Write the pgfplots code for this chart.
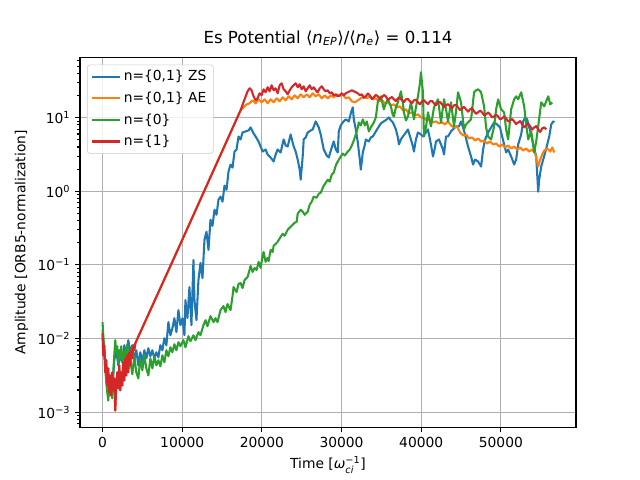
\documentclass[border=0pt]{standalone}
\usepackage{fontspec}
\setmainfont{DejaVu Sans}
\usepackage{pgfplots}
\pgfplotsset{compat=1.18}
\definecolor{tabblue}{HTML}{1F77B4}
\definecolor{taborange}{HTML}{FF7F0E}
\definecolor{tabgreen}{HTML}{2CA02C}
\definecolor{tabred}{HTML}{D62728}
\definecolor{gridgray}{HTML}{B0B0B0}
\begin{document}
\begin{tikzpicture}
\begin{axis}[
  at={(0,0)}, anchor=south west,
  scale only axis, width=4.96in, height=3.696in,
  ymode=log,
  xmin=-2830, xmax=59430, ymin=6.25e-4, ymax=65.5,
  scaled x ticks=false,
  xtick={0,10000,20000,30000,40000,50000},
  xticklabels={0,10000,20000,30000,40000,50000},
  ytick={1e-3,1e-2,1e-1,1,10},
  yticklabels={10\textsuperscript{−3},10\textsuperscript{−2},10\textsuperscript{−1},10\textsuperscript{0},10\textsuperscript{1}},
  minor ytick={7e-4,8e-4,9e-4,2e-3,3e-3,4e-3,5e-3,6e-3,7e-3,8e-3,9e-3,2e-2,3e-2,4e-2,5e-2,6e-2,7e-2,8e-2,9e-2,2e-1,3e-1,4e-1,5e-1,6e-1,7e-1,8e-1,9e-1,2,3,4,5,6,7,8,9,20,30,40,50,60},
  tick align=outside, tick pos=left,
  major tick length=3.5pt, minor tick length=2pt,
  every tick/.style={black, line width=0.8pt},
  axis line style={line width=0.8pt},
  grid=major,
  major grid style={gridgray, line width=0.8pt},
  tick label style={font=\fontsize{10}{12}\selectfont},
  title={Es Potential ⟨\textit{n}\textsubscript{\textit{EP}}⟩/⟨\textit{n}\textsubscript{\textit{e}}⟩ = 0.114},
  title style={font=\fontsize{12}{14}\selectfont, yshift=-1pt},
  xlabel={Time [\(\mbox{\textit{ω}}_{\mbox{\fontsize{7}{8}\selectfont\textit{ci}}}^{\mbox{\fontsize{7}{8}\selectfont −1}}\)]},
  ylabel={Amplitude [ORB5-normalization]},
  label style={font=\fontsize{10}{12}\selectfont},
  legend cell align=left,
  legend style={at={(0.014,0.981)}, anchor=north west, draw=black!20, rounded corners=2pt,
    fill=white, fill opacity=0.8, text opacity=1, font=\fontsize{10}{12}\selectfont,
    inner xsep=3pt, inner ysep=2pt, row sep=2.5pt},
  legend image code/.code={\draw[#1, line width=1.5pt] (0cm,0cm) -- (0.7cm,0cm);},
  every axis plot/.append style={line width=1.5pt, line join=round},
]
% n={0,1} ZS
\addplot[tabblue] coordinates {
(0,0.0130) (214,0.00694) (466,0.00348) (717,0.00231) (969,0.00288) (1220,0.00198) (1472,0.00507) (1724,0.00694) (1975,0.00433) (2227,0.00593) (2479,0.00476) (2730,0.00811) (2982,0.00593) (3233,0.00950) (3485,0.00651) (3737,0.00811) (3988,0.00507) (4240,0.00694) (4491,0.00433) (4743,0.00651) (4995,0.00476) (5246,0.00694) (5498,0.00540) (5749,0.00739) (6001,0.00575) (6253,0.00694) (6504,0.00540) (6756,0.00651) (7007,0.00557) (7259,0.00811) (7511,0.00694) (7762,0.0101) (8014,0.00811) (8265,0.0167) (8517,0.0111) (8769,0.0138) (9020,0.0189) (9272,0.0122) (9523,0.0243) (9775,0.0152) (10027,0.0189) (10278,0.0111) (10404,0.0333) (10655,0.0189) (10907,0.0501) (11159,0.0152) (11410,0.117) (11536,0.0333) (11788,0.0178) (12039,0.0624) (12291,0.1065) (12543,0.0665) (12794,0.219) (13046,0.282) (13297,0.160) (13549,0.411) (13801,0.340) (14052,0.562) (14304,0.480) (14555,0.770) (14807,0.845) (15059,0.723) (15310,1.194) (15562,1.05) (15813,1.853) (16065,2.31) (16317,2.10) (16568,3.47) (16820,3.70) (17072,5.56) (17323,5.06) (17575,6.30) (17952,6.51) (18329,6.71) (18581,7.37) (18958,6.11) (19210,5.56) (19588,4.75) (19839,4.06) (20091,3.47) (20468,3.70) (20720,3.16) (21097,2.88) (21475,2.54) (21726,3.16) (21978,3.70) (22355,3.37) (22733,5.06) (22984,4.19) (23236,4.06) (23613,5.92) (23991,4.06) (24243,3.47) (24494,2.70) (24746,1.97) (24871,1.44) (25123,2.97) (25249,5.06) (25500,5.39) (25752,6.30) (26129,6.71) (26381,6.93) (26758,8.90) (27136,7.37) (27387,5.92) (27765,3.70) (28142,3.06) (28394,2.88) (28771,3.94) (29023,4.75) (29274,3.70) (29526,3.37) (29652,6.51) (29903,7.85) (30155,8.63) (30532,9.48) (30910,8.90) (31161,11.45) (31413,13.82) (31539,9.48) (31790,6.93) (32042,4.61) (32294,2.70) (32419,1.97) (32671,3.37) (32923,4.33) (33048,5.06) (33426,4.75) (33677,5.39) (33929,5.56) (34306,6.51) (34684,7.61) (34935,8.36) (35312,8.90) (35690,9.48) (35942,10.09) (36193,9.19) (36445,8.63) (36822,6.93) (37074,5.39) (37200,4.33) (37451,5.06) (37703,5.56) (38080,6.30) (38332,6.93) (38709,5.06) (38961,4.06) (39087,3.47) (39338,5.06) (39590,6.30) (39967,5.92) (40219,5.56) (40596,6.30) (40848,6.93) (41225,4.33) (41477,2.97) (41729,3.94) (41855,4.75) (42232,5.06) (42484,4.33) (42735,3.70) (42861,3.16) (43113,5.56) (43364,5.56) (43742,6.51) (43993,6.93) (44371,7.61) (44748,7.61) (44999,8.90) (45251,7.37) (45503,5.92) (45880,4.06) (46257,2.97) (46509,2.31) (46761,2.70) (47138,2.54) (47515,2.17) (47767,3.70) (48019,5.06) (48396,6.30) (48773,7.37) (49151,8.63) (49528,8.10) (49905,7.37) (50031,6.30) (50409,4.33) (50660,3.37) (50912,3.70) (51289,2.97) (51667,2.31) (51918,2.70) (52170,4.33) (52547,5.92) (52799,8.90) (53050,10.09) (53302,9.48) (53554,7.37) (53805,5.92) (54057,4.33) (54434,2.97) (54560,1.69) (54686,0.989) (54812,1.44) (55063,2.17) (55315,2.70) (55567,3.37) (55818,4.33) (56070,5.56) (56321,8.10) (56573,8.90) (56699,8.63)
};
\addlegendentry{n=\{0,1\} ZS}
% n={0,1} AE
\addplot[taborange] coordinates {
(0,0.0118) (88,0.00593) (214,0.00811) (340,0.00348) (466,0.00507) (592,0.00231) (717,0.00394) (843,0.00186) (969,0.00316) (1095,0.00169) (1220,0.00348) (1346,0.00198) (1472,0.00288) (1598,0.00105) (1724,0.00231) (1850,0.00348) (1975,0.00210) (2101,0.00433) (2227,0.00198) (2353,0.00348) (2479,0.00231) (2604,0.00476) (2730,0.00270) (2856,0.00540) (2982,0.00316) (3108,0.00593) (3233,0.00348) (3359,0.00651) (3485,0.00433) (3610,0.00694) (3737,0.00540) (3862,0.00811) (3988,0.00694) (4114,0.00864) (9775,0.193) (17323,12.58)
(17700,13.82) (18078,15.18) (18455,15.67) (18833,17.22) (19210,15.67) (19587,17.77) (19965,16.17) (20342,17.77) (20720,15.67) (21097,17.77) (21475,16.17) (21852,18.33) (22229,16.68) (22607,18.92) (22984,17.22) (23362,19.52) (23739,17.77) (24117,20.14) (24494,18.33) (24871,20.78) (25249,18.92) (25626,20.78) (26003,18.92) (26381,21.45) (26758,19.52) (27136,20.78) (27513,18.33) (27890,20.14) (28268,18.33) (28645,20.14) (29023,18.92) (29400,20.78) (29777,19.52) (30155,20.78) (30532,18.33) (30910,18.92) (31287,16.68) (31665,16.17) (32042,17.22) (32419,18.33) (32797,19.52) (33174,18.33) (33551,19.52) (33929,17.77) (34306,18.33) (34684,16.68) (35061,17.22) (35439,15.67) (35816,16.17) (36193,14.72) (36571,15.18) (36948,13.82) (37326,14.26) (37703,12.58) (38080,12.98) (38458,11.45) (38835,11.81) (39213,10.75) (39590,11.09) (39967,10.09) (40345,9.78) (40722,9.19) (41100,9.48) (41477,8.63) (41855,8.90) (42232,8.36) (42609,8.63) (42987,8.10) (43364,8.90) (43742,7.85) (44119,7.37) (44496,7.61) (44874,6.30) (45251,5.74) (45629,5.92) (46006,5.22) (46384,5.39) (46761,4.90) (47138,5.22) (47516,4.75) (47893,4.90) (48271,4.46) (48648,4.75) (49025,4.33) (49403,4.46) (49780,4.06) (50158,4.33) (50535,3.94) (50912,4.19) (51290,3.82) (51667,4.06) (52045,3.70) (52422,3.94) (52800,3.58) (53177,3.82) (53554,3.47) (53932,3.70) (54309,3.26) (54687,2.17) (54938,2.70) (55189,3.16) (55440,3.58) (55818,3.82) (56195,3.47) (56447,3.94) (56698,3.37)
};
\addlegendentry{n=\{0,1\} AE}
% n={0}
\addplot[tabgreen] coordinates {
(0,0.0167) (88,0.0111) (214,0.00694) (340,0.00394) (466,0.00254) (592,0.00186) (717,0.00144) (843,0.00239) (969,0.00169) (1095,0.00288) (1220,0.00154) (1346,0.00348) (1472,0.00593) (1598,0.00950) (1724,0.00651) (1850,0.00787) (1975,0.00476) (2101,0.00694) (2227,0.00540) (2353,0.00787) (2479,0.00507) (2604,0.00651) (2730,0.00420) (2856,0.00694) (2982,0.00540) (3108,0.00837) (3233,0.00651) (3485,0.00507) (3737,0.00327) (3988,0.00575) (4240,0.00348) (4491,0.00288) (4743,0.00540) (4995,0.00370) (5246,0.00593) (5498,0.00394) (5749,0.00316) (6001,0.00540) (6253,0.00394) (6504,0.00575) (6756,0.00433) (7007,0.00507) (7259,0.00420) (7511,0.00593) (7762,0.00476) (8014,0.00694) (8265,0.00575) (8517,0.00762) (8769,0.00651) (9020,0.00837) (9272,0.00694) (9523,0.00892) (9775,0.00787) (10152,0.00950) (10404,0.00762) (10781,0.01077) (11033,0.00920) (11410,0.0111) (11662,0.00950) (12039,0.0122) (12291,0.0111) (12668,0.0152) (12920,0.0178) (13172,0.0147) (13549,0.0202) (13926,0.0167) (14178,0.0189) (14430,0.0167) (14807,0.0243) (15185,0.0276) (15436,0.0229) (15688,0.0294) (16065,0.0243) (16317,0.0378) (16443,0.0501) (16820,0.0428) (17072,0.0551) (17323,0.0568) (17575,0.0486) (17827,0.0624) (18204,0.0686) (18455,0.0855) (18581,0.0969) (18833,0.0803) (19084,0.0910) (19336,0.0855) (19588,0.110) (19839,0.0910) (20091,0.133) (20217,0.150) (20468,0.110) (20720,0.125) (20846,0.113) (21097,0.160) (21349,0.150) (21475,0.182) (21726,0.193) (21978,0.206) (22355,0.241) (22607,0.265) (22858,0.249) (23236,0.300) (23488,0.320) (23739,0.340) (24117,0.374) (24368,0.386) (24494,0.496) (24871,0.562) (25123,0.528) (25375,0.480) (25752,0.528) (26003,0.658) (26255,0.723) (26507,0.845) (26884,0.819) (27136,0.929) (27387,0.958) (27765,1.194) (28016,1.31) (28268,1.44) (28519,1.354) (28771,1.69) (29023,1.80) (29274,2.24) (29526,2.54) (29903,2.97) (30155,3.26) (30406,3.06) (30784,3.47) (31035,3.70) (31287,4.19) (31539,4.90) (31790,5.92) (32042,7.37) (32168,8.63) (32419,7.85) (32671,9.48) (32923,7.85) (33174,8.90) (33426,6.51) (33677,7.37) (34055,8.63) (34306,10.09) (34558,16.68) (34935,19.52) (35312,12.98) (35564,15.67) (35816,17.77) (36193,14.26) (36445,10.75) (36571,10.42) (36822,13.82) (37074,16.17) (37451,22.83) (37703,15.67) (37829,11.81) (38080,9.19) (38332,10.42) (38584,13.82) (38709,16.17) (38961,11.45) (39087,9.48) (39338,13.82) (39590,19.52) (39842,29.35) (39967,41.45) (40219,22.13) (40345,5.56) (40596,7.37) (40848,11.81) (41225,7.61) (41603,13.82) (41855,15.67) (42106,17.77) (42484,8.63) (42861,17.77) (43113,12.98) (43364,8.90) (43742,16.17) (44119,7.61) (44371,12.19) (44622,22.13) (44999,16.17) (45377,6.93) (45628,8.10) (45880,8.63) (46257,9.48) (46635,22.13) (46886,23.56) (47138,24.31) (47515,22.13) (47893,14.26) (48144,7.37) (48396,5.56) (48773,5.06) (49151,7.61) (49402,12.98) (49654,17.77) (50031,12.98) (50409,11.81) (50660,6.93) (50912,5.06) (51289,12.98) (51667,17.77) (51918,19.52) (52170,17.77) (52547,22.13) (52925,14.26) (53176,8.10) (53428,5.06) (53805,6.51) (54183,3.37) (54434,4.75) (54686,7.61) (55063,16.17) (55441,14.26) (55692,16.68) (55944,19.52) (56196,15.18) (56447,16.17)
};
\addlegendentry{n=\{0\}}
% n={1}
\addplot[tabred] coordinates {
(0,0.0118) (88,0.00593) (214,0.00811) (340,0.00348) (466,0.00507) (592,0.00231) (717,0.00394) (843,0.00186) (969,0.00316) (1095,0.00169) (1220,0.00348) (1346,0.00198) (1472,0.00288) (1598,0.00105) (1724,0.00231) (1850,0.00348) (1975,0.00210) (2101,0.00433) (2227,0.00198) (2353,0.00348) (2479,0.00231) (2604,0.00476) (2730,0.00270) (2856,0.00540) (2982,0.00316) (3108,0.00593) (3233,0.00348) (3359,0.00651) (3485,0.00433) (3610,0.00694) (3737,0.00540) (3862,0.00811) (3988,0.00694) (4114,0.00864) (9775,0.193) (17323,12.58) (17827,17.77) (18204,22.83) (18455,25.09) (18707,23.56) (18958,19.52) (19210,17.22) (19462,18.33) (19713,21.45) (19965,20.14) (20216,24.31) (20468,22.13) (20720,25.89) (20971,22.83) (21223,27.56) (21475,23.56) (21726,25.09) (21978,21.45) (22229,27.56) (22481,29.35) (22733,24.31) (22984,22.83) (23236,20.78) (23487,23.56) (23739,25.89) (23991,27.56) (24242,29.35) (24494,25.89) (24745,28.44) (24997,24.31) (25249,26.71) (25500,22.83) (25752,25.09) (26003,27.56) (26255,24.31) (26507,25.89) (26758,23.56) (27010,22.13) (27261,25.09) (27513,26.71) (27765,24.31) (28016,22.83) (28268,23.56) (28519,21.45) (28771,22.13) (29023,20.14) (29274,20.78) (29526,19.52) (29777,20.14) (30029,21.45) (30281,20.14) (30532,21.45) (30784,22.13) (31035,22.83) (31287,23.56) (31539,22.83) (31790,22.13) (32042,21.45) (32293,20.14) (32545,20.78) (32797,18.6) (33048,19.52) (33300,21.3) (33551,20.14) (33803,17.9) (34054,18.92) (34306,20.4) (34558,19.52) (34810,17.8) (35061,18.92) (35312,20.3) (35564,19.52) (35816,17.4) (36067,18.33) (36318,19.1) (36570,17.77) (36822,16.8) (37074,18.33) (37325,18.8) (37577,17.22) (37828,16.3) (38080,17.77) (38331,18.0) (38583,16.68) (38834,15.8) (39086,17.22) (39337,17.5) (39589,16.17) (39841,15.2) (40093,16.68) (40344,17.3) (40596,16.17) (40847,15.3) (41099,16.68) (41350,16.9) (41602,15.67) (41853,14.8) (42105,16.17) (42357,16.3) (42609,15.18) (42860,14.0) (43112,14.72) (43363,15.3) (43615,14.26) (43866,13.5) (44118,14.72) (44369,14.9) (44621,13.82) (44873,12.7) (45125,13.39) (45376,14.0) (45628,12.98) (45879,12.1) (46131,12.98) (46382,13.5) (46634,12.19) (46885,11.3) (47137,11.81) (47389,12.5) (47641,11.81) (47892,10.8) (48144,11.09) (48395,11.8) (48647,11.09) (48898,10.1) (49150,10.42) (49401,11.0) (49653,10.42) (49905,9.5) (50157,9.78) (50408,10.4) (50660,9.78) (50911,8.9) (51163,9.19) (51414,9.6) (51666,8.90) (51917,8.2) (52169,8.63) (52421,9.0) (52673,8.10) (52924,7.4) (53176,7.85) (53427,8.3) (53679,7.61) (53930,6.9) (54182,7.37) (54433,7.7) (54685,6.93) (54937,6.4) (55189,7.15) (55440,7.4) (55692,6.93)
};
\addlegendentry{n=\{1\}}
\end{axis}
\pgfresetboundingbox
\path[use as bounding box] (-0.8in,-0.528in) rectangle (5.6in,4.272in);
\end{tikzpicture}
\end{document}
